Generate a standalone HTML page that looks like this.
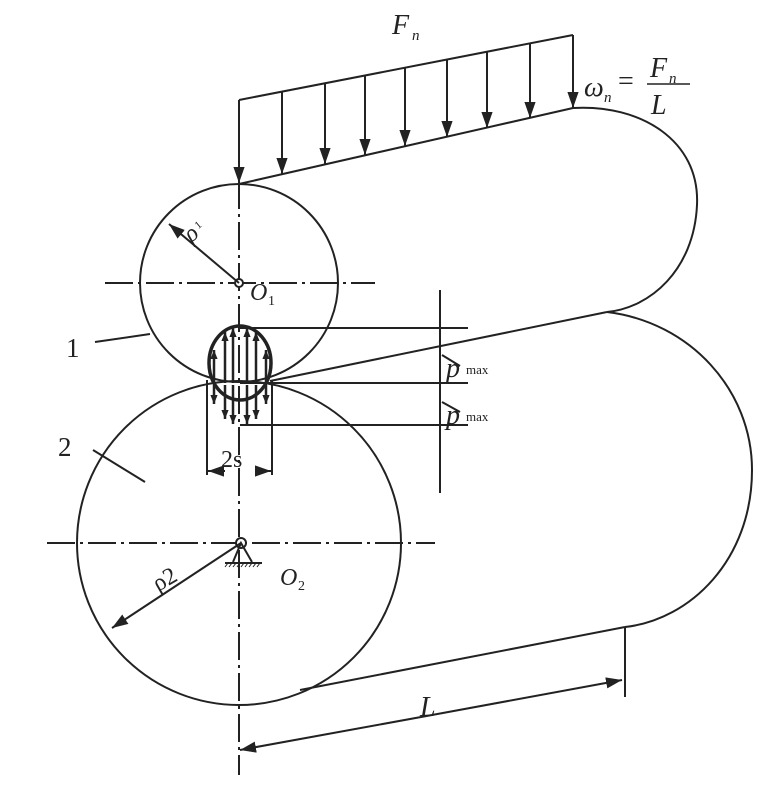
<!DOCTYPE html>
<html><head><style>body{margin:0;background:#fff}svg{display:block}text{font-family:"Liberation Serif",serif;fill:#222}</style></head>
<body>
<svg width="775" height="785" viewBox="0 0 775 785" xmlns="http://www.w3.org/2000/svg">
<defs>
<marker id="a" viewBox="0 0 10 10" refX="10" refY="5" markerWidth="9" markerHeight="9" markerUnits="userSpaceOnUse" orient="auto"><path d="M0,1L10,5L0,9z" fill="#222"/></marker>
<marker id="b" viewBox="0 0 10 10" refX="10" refY="5" markerWidth="16" markerHeight="16" markerUnits="userSpaceOnUse" orient="auto"><path d="M0,1.5L10,5L0,8.5z" fill="#222"/></marker>
</defs>
<g stroke="#222" stroke-width="2" fill="none">
<circle cx="239" cy="283" r="99"/>
<circle cx="239" cy="543" r="162"/>
<line x1="239" y1="184" x2="573" y2="108"/>
<path d="M573,108 C640,104 700,140 697,205 C694,270 650,308 607,312"/>
<line x1="270" y1="381" x2="607" y2="312"/>
<path d="M607,312 C690,322 752,390 752,470 C752,560 690,620 625,627"/>
<line x1="300" y1="690" x2="625" y2="627"/>
<g stroke-dasharray="28,5,3,5">
<line x1="105" y1="283" x2="375" y2="283"/>
<line x1="47" y1="543" x2="435" y2="543"/>
<line x1="239" y1="140" x2="239" y2="775"/>
</g>
<circle cx="239" cy="283" r="4" fill="#fff"/>
<circle cx="241" cy="543" r="5" fill="#fff"/>
<path d="M233,562 L241,543 L252,562"/>
<line x1="225" y1="563" x2="262" y2="563"/>
<g stroke-width="1"><path d="M228,563l-3,4M232,563l-3,4M236,563l-3,4M240,563l-3,4M244,563l-3,4M248,563l-3,4M252,563l-3,4M256,563l-3,4M260,563l-3,4"/></g>
<line x1="239" y1="100" x2="573" y2="35"/>
<g marker-end="url(#b)">
<line x1="239" y1="100" x2="239" y2="183"/>
<line x1="282" y1="92" x2="282" y2="174"/>
<line x1="325" y1="83" x2="325" y2="164"/>
<line x1="365" y1="76" x2="365" y2="155"/>
<line x1="405" y1="68" x2="405" y2="146"/>
<line x1="447" y1="60" x2="447" y2="137"/>
<line x1="487" y1="52" x2="487" y2="128"/>
<line x1="530" y1="44" x2="530" y2="118"/>
<line x1="573" y1="35" x2="573" y2="108"/>
</g>
<ellipse cx="240" cy="363" rx="31" ry="37" stroke-width="3.5"/>
<line x1="240" y1="328" x2="468" y2="328"/>
<line x1="240" y1="383" x2="468" y2="383"/>
<line x1="240" y1="425" x2="468" y2="425"/>
<line x1="440" y1="290" x2="440" y2="493"/>
<g stroke-width="2.5" marker-end="url(#a)">
<line x1="214" y1="383" x2="214" y2="350"/><line x1="214" y1="385" x2="214" y2="404"/>
<line x1="225" y1="383" x2="225" y2="332"/><line x1="225" y1="385" x2="225" y2="419"/>
<line x1="233" y1="383" x2="233" y2="328"/><line x1="233" y1="385" x2="233" y2="424"/>
<line x1="247" y1="383" x2="247" y2="328"/><line x1="247" y1="385" x2="247" y2="424"/>
<line x1="256" y1="383" x2="256" y2="332"/><line x1="256" y1="385" x2="256" y2="419"/>
<line x1="266" y1="383" x2="266" y2="350"/><line x1="266" y1="385" x2="266" y2="404"/>
</g>
<line x1="442" y1="355" x2="460" y2="366"/>
<line x1="442" y1="402" x2="460" y2="412"/>
<line x1="207" y1="380" x2="207" y2="475"/>
<line x1="272" y1="380" x2="272" y2="475"/>
<line x1="225" y1="471" x2="208" y2="471" marker-end="url(#b)"/>
<line x1="255" y1="471" x2="271" y2="471" marker-end="url(#b)"/>
<line x1="95" y1="342" x2="150" y2="334"/>
<line x1="93" y1="450" x2="145" y2="482"/>
<line x1="239" y1="283" x2="169" y2="224" marker-end="url(#b)"/>
<line x1="241" y1="543" x2="112" y2="628" marker-end="url(#b)"/>
<line x1="625" y1="627" x2="625" y2="697"/>
<line x1="432" y1="715" x2="240" y2="750" marker-end="url(#b)"/>
<line x1="432" y1="715" x2="622" y2="680" marker-end="url(#b)"/>
</g>
<g font-style="italic">
<text x="392" y="34" font-size="28">F</text><text x="412" y="40" font-size="15">n</text>
<text x="584" y="96" font-size="28">ω</text><text x="604" y="102" font-size="15">n</text>
<text x="618" y="90" font-size="28" font-style="normal">=</text>
<text x="650" y="77" font-size="28">F</text><text x="669" y="83" font-size="15">n</text>
<line x1="647" y1="84" x2="690" y2="84" stroke="#222" stroke-width="1.5"/>
<text x="651" y="114" font-size="28">L</text>
<text x="250" y="300" font-size="24">O</text><text x="268" y="305" font-size="14" font-style="normal">1</text>
<text x="280" y="585" font-size="24">O</text><text x="298" y="590" font-size="14" font-style="normal">2</text>
<text x="186" y="242" font-size="24" transform="rotate(-40 190 235)">ρ</text><text x="200" y="236" font-size="11" font-style="normal" transform="rotate(-40 190 235)">1</text>
<text x="155" y="590" font-size="24" font-style="normal" transform="rotate(-30 160 585)">ρ2</text>
<text x="446" y="377" font-size="28">p</text><text x="466" y="374" font-size="13" font-style="normal">max</text>
<text x="446" y="424" font-size="28">p</text><text x="466" y="421" font-size="13" font-style="normal">max</text>
<text x="420" y="716" font-size="28">L</text>
</g>
<text x="66" y="357" font-size="27">1</text>
<text x="58" y="456" font-size="27">2</text>
<text x="221" y="467" font-size="24">2s</text>
</svg>
</body></html>
